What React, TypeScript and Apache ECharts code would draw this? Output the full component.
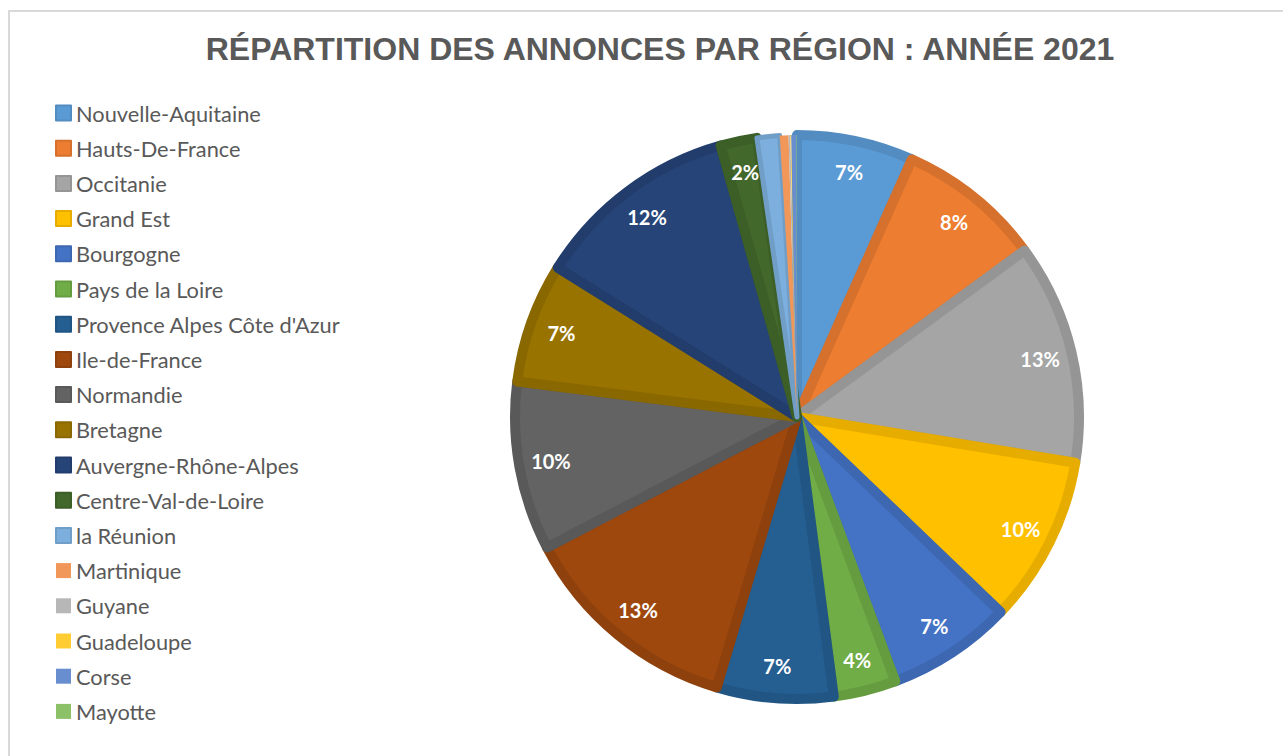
import React, { useEffect, useRef } from "react";
import * as echarts from "echarts";

const regions = [
  "Nouvelle-Aquitaine",
  "Hauts-De-France",
  "Occitanie",
  "Grand Est",
  "Bourgogne",
  "Pays de la Loire",
  "Provence Alpes Côte d'Azur",
  "Ile-de-France",
  "Normandie",
  "Bretagne",
  "Auvergne-Rhône-Alpes",
  "Centre-Val-de-Loire",
  "la Réunion",
  "Martinique",
  "Guyane",
  "Guadeloupe",
  "Corse",
  "Mayotte",
];

// approximate shares (per mille)
const shares = [67, 83, 127, 96, 72, 36, 67, 128, 97, 69, 118, 21, 13, 5, 1, 0.5, 3, 0.3];

const colors = [
  "#5B9BD5", "#ED7D31", "#A5A5A5", "#FFC000", "#4472C4", "#70AD47",
  "#255E91", "#9E480E", "#636363", "#997300", "#264478", "#43682B",
  "#7CAFDD", "#F1975A", "#B7B7B7", "#FFCD33", "#698ED0", "#8CC168",
];

const titleText = "RÉPARTITION DES ANNONCES PAR RÉGION : ANNÉE 2021";

function darken(hex: string, f: number): string {
  const n = parseInt(hex.slice(1), 16);
  const r = Math.round(((n >> 16) & 255) * f);
  const g = Math.round(((n >> 8) & 255) * f);
  const b = Math.round((n & 255) * f);
  return "#" + [r, g, b].map((v) => v.toString(16).padStart(2, "0")).join("");
}

export default function App() {
  const ref = useRef<HTMLDivElement>(null);
  useEffect(() => {
    document.body.style.margin = "0";
    const chart = echarts.init(ref.current!, null, { renderer: "svg" });
    const data = regions.map((name, i) => ({
      name,
      value: shares[i],
      itemStyle: {
        color: colors[i],
        borderColor: darken(colors[i], 0.9),
        borderWidth: shares[i] >= 20 ? 10 : shares[i] >= 10 ? 5 : 0,
      },
    }));
    const center = [797, 417];
    chart.setOption({
      animation: false,
      backgroundColor: "#ffffff",
      title: {
        text: titleText,
        left: 660,
        top: 33,
        padding: 0,
        textAlign: "center",
        textStyle: {
          fontFamily: "Liberation Sans",
          fontWeight: "bold",
          fontSize: 32,
          color: "#595959",
        },
      },
      legend: {
        orient: "vertical",
        left: 55,
        top: 102,
        padding: 0,
        icon: "rect",
        itemWidth: 15,
        itemHeight: 15,
        itemGap: 13.2,
        selectedMode: false,
        data: regions,
        textStyle: {
          fontFamily: "Lato",
          fontSize: 21.8,
          lineHeight: 22,
          color: "#595959",
        },
      },
      graphic: [
        {
          type: "rect",
          shape: { x: 9, y: 11, width: 1300, height: 800 },
          style: { fill: "none", stroke: "#d9d9d9", lineWidth: 2 },
          silent: true,
        },
      ],
      series: [
        {
          type: "pie",
          center,
          radius: [0, 282],
          startAngle: 90,
          clockwise: true,
          label: { show: false },
          labelLine: { show: false },
          data,
          silent: true,
        },
        {
          type: "pie",
          center,
          radius: [207, 287],
          startAngle: 90,
          clockwise: true,
          silent: true,
          itemStyle: { color: "rgba(0,0,0,0)", borderWidth: 0 },
          labelLine: { show: false },
          label: {
            show: true,
            position: "inside",
            fontFamily: "Lato",
            fontWeight: "bold",
            fontSize: 20,
            color: "#ffffff",
            formatter: (p: any) => {
              const pct = Math.round(p.percent);
              return p.percent < 1 ? "" : pct + "%";
            },
          },
          data: regions.map((name, i) => ({ name, value: shares[i] })),
        },
      ],
    });
    return () => chart.dispose();
  }, []);
  return <div ref={ref} style={{ width: 1283, height: 756 }} />;
}
